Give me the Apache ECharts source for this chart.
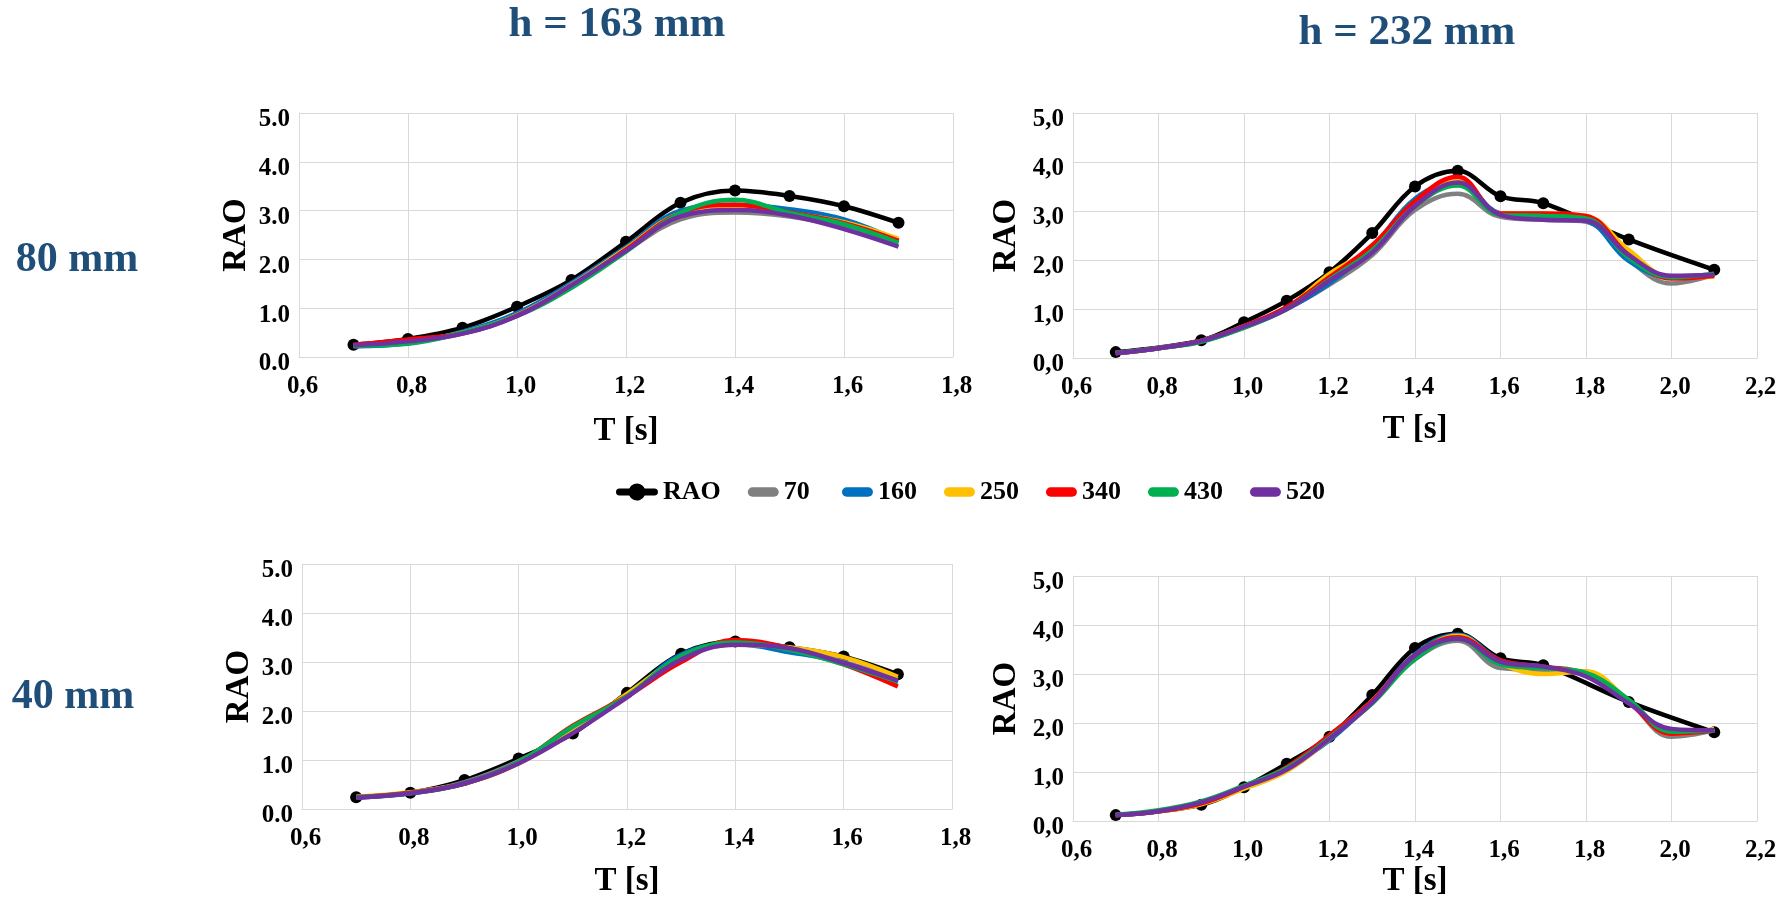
<!DOCTYPE html>
<html>
<head>
<meta charset="utf-8">
<script src="https://cdn.jsdelivr.net/npm/echarts@6/dist/echarts.min.js"></script>
<style>
  html, body { margin: 0; padding: 0; background: #ffffff; }
  #chart { width: 1786px; height: 899px; }
</style>
</head>
<body>
<div id="chart"></div>
<script>
// Wave periods T [s]
const T163 = [0.7, 0.8, 0.9, 1.0, 1.1, 1.2, 1.3, 1.4, 1.5, 1.6, 1.7];
const T232 = [0.7, 0.8, 0.9, 1.0, 1.1, 1.2, 1.3, 1.4, 1.5, 1.6, 1.7, 1.8, 1.9, 2.0, 2.1];
const T232_RAO = [0.7, 0.9, 1.0, 1.1, 1.2, 1.3, 1.4, 1.5, 1.6, 1.7, 1.9, 2.1];

// Series names (legend order) and colours
const seriesNames = ['RAO', '70', '160', '250', '340', '430', '520'];
const seriesColors = ['#000000', '#808080', '#0070c0', '#ffc000', '#ff0000', '#00b050', '#7030a0'];

// Tick labels
const yTicksDot = ['0.0', '1.0', '2.0', '3.0', '4.0', '5.0'];
const yTicksComma = ['0,0', '1,0', '2,0', '3,0', '4,0', '5,0'];
const xTicks163 = ['0,6', '0,8', '1,0', '1,2', '1,4', '1,6', '1,8'];
const xTicks232 = ['0,6', '0,8', '1,0', '1,2', '1,4', '1,6', '1,8', '2,0', '2,2'];

// h = 163 mm, 80 mm
const h163_80_RAO = [0.25, 0.37, 0.60, 1.03, 1.58, 2.36, 3.16, 3.41, 3.30, 3.09, 2.75];
const h163_80_70  = [0.22, 0.30, 0.48, 0.85, 1.48, 2.18, 2.82, 2.96, 2.88, 2.66, 2.34];
const h163_80_160 = [0.22, 0.28, 0.52, 0.90, 1.52, 2.25, 3.00, 3.12, 3.03, 2.82, 2.38];
const h163_80_250 = [0.24, 0.32, 0.50, 0.86, 1.48, 2.22, 2.95, 3.10, 2.95, 2.76, 2.42];
const h163_80_340 = [0.25, 0.36, 0.49, 0.85, 1.45, 2.20, 2.95, 3.12, 2.96, 2.74, 2.38];
const h163_80_430 = [0.23, 0.27, 0.50, 0.84, 1.42, 2.16, 2.95, 3.22, 2.95, 2.72, 2.34];
const h163_80_520 = [0.24, 0.32, 0.48, 0.84, 1.47, 2.18, 2.88, 3.01, 2.90, 2.62, 2.26];

// h = 232 mm, 80 mm
const h232_80_RAO = [0.12, 0.36, 0.73, 1.17, 1.75, 2.55, 3.50, 3.82, 3.30, 3.16, 2.42, 1.80];
const h232_80_70  = [0.10, 0.20, 0.34, 0.62, 1.00, 1.50, 2.10, 3.02, 3.35, 2.88, 2.82, 2.78, 2.00, 1.52, 1.70];
const h232_80_160 = [0.10, 0.20, 0.35, 0.64, 1.00, 1.52, 2.25, 3.25, 3.60, 2.95, 2.88, 2.80, 1.98, 1.65, 1.70];
const h232_80_250 = [0.10, 0.20, 0.35, 0.65, 1.02, 1.72, 2.25, 3.15, 3.65, 2.95, 2.95, 2.90, 2.20, 1.65, 1.66];
const h232_80_340 = [0.10, 0.20, 0.35, 0.65, 1.04, 1.65, 2.30, 3.20, 3.70, 2.95, 2.95, 2.90, 2.10, 1.62, 1.68];
const h232_80_430 = [0.10, 0.20, 0.33, 0.62, 1.00, 1.60, 2.20, 3.10, 3.52, 2.92, 2.90, 2.85, 2.05, 1.65, 1.72];
const h232_80_520 = [0.10, 0.20, 0.35, 0.64, 1.00, 1.58, 2.15, 3.10, 3.58, 2.92, 2.82, 2.80, 2.10, 1.68, 1.70];

// h = 163 mm, 40 mm
const h163_40_RAO = [0.24, 0.33, 0.59, 1.03, 1.54, 2.37, 3.17, 3.42, 3.30, 3.11, 2.75];
const h163_40_70  = [0.24, 0.33, 0.55, 0.98, 1.60, 2.30, 3.10, 3.38, 3.28, 3.00, 2.65];
const h163_40_160 = [0.23, 0.32, 0.53, 0.95, 1.62, 2.30, 3.15, 3.36, 3.20, 2.98, 2.58];
const h163_40_250 = [0.25, 0.34, 0.52, 0.93, 1.58, 2.35, 3.08, 3.35, 3.30, 3.10, 2.70];
const h163_40_340 = [0.24, 0.33, 0.52, 0.95, 1.70, 2.30, 3.00, 3.45, 3.28, 2.95, 2.50];
const h163_40_430 = [0.24, 0.32, 0.52, 0.96, 1.68, 2.30, 3.12, 3.40, 3.25, 2.95, 2.60];
const h163_40_520 = [0.23, 0.32, 0.52, 0.93, 1.55, 2.28, 3.05, 3.35, 3.28, 2.98, 2.62];

// h = 232 mm, 40 mm
const h232_40_RAO = [0.12, 0.33, 0.69, 1.17, 1.72, 2.57, 3.53, 3.82, 3.32, 3.18, 2.43, 1.81];
const h232_40_70  = [0.12, 0.20, 0.38, 0.68, 1.05, 1.75, 2.45, 3.30, 3.68, 3.12, 3.08, 3.05, 2.45, 1.72, 1.85];
const h232_40_160 = [0.12, 0.20, 0.38, 0.70, 1.08, 1.65, 2.45, 3.40, 3.80, 3.28, 3.15, 2.98, 2.42, 1.80, 1.85];
const h232_40_250 = [0.12, 0.20, 0.34, 0.66, 1.02, 1.68, 2.45, 3.35, 3.78, 3.22, 3.00, 3.05, 2.45, 1.78, 1.88];
const h232_40_340 = [0.12, 0.20, 0.36, 0.70, 1.10, 1.75, 2.45, 3.38, 3.75, 3.28, 3.15, 3.00, 2.42, 1.78, 1.85];
const h232_40_430 = [0.13, 0.22, 0.40, 0.72, 1.08, 1.70, 2.40, 3.30, 3.72, 3.20, 3.12, 3.02, 2.48, 1.82, 1.85];
const h232_40_520 = [0.12, 0.20, 0.38, 0.70, 1.05, 1.68, 2.42, 3.38, 3.72, 3.25, 3.15, 2.95, 2.40, 1.88, 1.85];

const FONT = 'Liberation Serif';
const TITLE_COLOR = '#1f4e79';
const GRID_COLOR = '#d9d9d9';

const panels = [
  { raoT: T163, lineT: T163, rao: h163_80_RAO,
    lines: [h163_80_70, h163_80_160, h163_80_250, h163_80_340, h163_80_430, h163_80_520],
    xMax: 1.8, xTicks: xTicks163, yTicks: yTicksDot,
    grid: { left: 299, top: 113, width: 654, height: 244 }, yNameGap: 46, xNameGap: 58 },
  { raoT: T232_RAO, lineT: T232, rao: h232_80_RAO,
    lines: [h232_80_70, h232_80_160, h232_80_250, h232_80_340, h232_80_430, h232_80_520],
    xMax: 2.2, xTicks: xTicks232, yTicks: yTicksComma,
    grid: { left: 1073, top: 113, width: 684, height: 245 }, yNameGap: 50, xNameGap: 55 },
  { raoT: T163, lineT: T163, rao: h163_40_RAO,
    lines: [h163_40_70, h163_40_160, h163_40_250, h163_40_340, h163_40_430, h163_40_520],
    xMax: 1.8, xTicks: xTicks163, yTicks: yTicksDot,
    grid: { left: 302, top: 564, width: 650, height: 245 }, yNameGap: 46, xNameGap: 56 },
  { raoT: T232_RAO, lineT: T232, rao: h232_40_RAO,
    lines: [h232_40_70, h232_40_160, h232_40_250, h232_40_340, h232_40_430, h232_40_520],
    xMax: 2.2, xTicks: xTicks232, yTicks: yTicksComma,
    grid: { left: 1073, top: 576, width: 684, height: 246 }, yNameGap: 50, xNameGap: 44 }
];

const zip = (xs, ys) => xs.map((x, i) => [x, ys[i]]);
const tickText = (labels, min, step) => (v) => labels[Math.round((v - min) / step)] || '';

const axisNameStyle = { fontFamily: FONT, fontWeight: 'bold', fontSize: 33, color: '#000' };
const tickStyle = { fontFamily: FONT, fontWeight: 'bold', fontSize: 25, color: '#000' };

const grids = [], xAxes = [], yAxes = [], series = [];
panels.forEach((p, k) => {
  grids.push(Object.assign({ containLabel: false }, p.grid));
  xAxes.push({
    type: 'value', gridIndex: k, min: 0.6, max: p.xMax, interval: 0.2,
    name: 'T [s]', nameLocation: 'middle', nameGap: p.xNameGap,
    nameTextStyle: axisNameStyle,
    axisLine: { show: true, lineStyle: { color: GRID_COLOR, width: 1 } },
    axisTick: { show: false },
    axisLabel: Object.assign({ margin: 17, padding: [0, 0, 0, 7],
                               formatter: tickText(p.xTicks, 0.6, 0.2) }, tickStyle),
    splitLine: { show: true, lineStyle: { color: GRID_COLOR, width: 1 } }
  });
  const yText = tickText(p.yTicks, 0, 1);
  yAxes.push({
    type: 'value', gridIndex: k, min: 0, max: 5, interval: 1,
    name: 'RAO', nameLocation: 'middle', nameGap: p.yNameGap, nameRotate: 90,
    nameTextStyle: axisNameStyle,
    axisLine: { show: true, lineStyle: { color: GRID_COLOR, width: 1 } },
    axisTick: { show: false },
    axisLabel: Object.assign({ margin: 9,
                               formatter: (v) => '{t|' + yText(v) + '}',
                               // value labels sit slightly below their grid line
                               rich: { t: Object.assign({ padding: [14, 0, 0, 0] }, tickStyle) }
                             }, tickStyle),
    splitLine: { show: true, lineStyle: { color: GRID_COLOR, width: 1 } }
  });
  // Reference RAO curve with markers, drawn beneath the measured curves
  series.push({
    name: seriesNames[0], type: 'line', xAxisIndex: k, yAxisIndex: k,
    data: zip(p.raoT, p.rao), smooth: 0.35, z: 2,
    symbol: 'circle', symbolSize: 12, showSymbol: true,
    lineStyle: { color: seriesColors[0], width: 4.5 },
    itemStyle: { color: seriesColors[0] }
  });
  p.lines.forEach((vals, j) => {
    series.push({
      name: seriesNames[j + 1], type: 'line', xAxisIndex: k, yAxisIndex: k,
      data: zip(p.lineT, vals), smooth: 0.4, z: 3 + j,
      showSymbol: false, symbol: 'none',
      lineStyle: { color: seriesColors[j + 1], width: 4.5 },
      itemStyle: { color: seriesColors[j + 1] }
    });
  });
});

// Legend icons: a pill for the measured curves, a thick line with a dot for RAO.
// The leading moves fix the icon bounding box to 42 x 17.
const pillIcon = 'path://M0,0 M42,17 M15.75,3.75 H37.25 A4.75,4.75 0 0 1 37.25,13.25 H15.75 A4.75,4.75 0 0 1 15.75,3.75 Z';
const raoIcon = 'path://M0,0 M42,17 M3.5,5 H13.25 A8.5,8.5 0 0 1 28.75,5 H38.5 A3.5,3.5 0 0 1 38.5,12 H28.75 A8.5,8.5 0 0 1 13.25,12 H3.5 A3.5,3.5 0 0 1 3.5,5 Z';

const headings = [
  { text: 'h = 163 mm', x: 617, y: 25, size: 43 },
  { text: 'h = 232 mm', x: 1407, y: 33, size: 43 },
  { text: '80 mm', x: 77, y: 260, size: 42 },
  { text: '40 mm', x: 73, y: 697, size: 42 }
];

const chart = echarts.init(document.getElementById('chart'), null, { renderer: 'canvas' });
chart.setOption({
  animation: false,
  backgroundColor: '#ffffff',
  grid: grids,
  xAxis: xAxes,
  yAxis: yAxes,
  legend: {
    left: 611, top: 474, itemGap: 16, itemWidth: 42, itemHeight: 17,
    textStyle: { fontFamily: FONT, fontWeight: 'bold', fontSize: 26, color: '#000' },
    // the two-digit label gets a thin space so the slots line up
    formatter: (name) => name.length < 3 ? name + '\u2009' : name,
    data: seriesNames.map((n, i) => ({ name: n, icon: i === 0 ? raoIcon : pillIcon,
                                       itemStyle: { color: seriesColors[i] } }))
  },
  graphic: headings.map(h => ({
    type: 'text', x: h.x, y: h.y,
    style: { text: h.text, fill: TITLE_COLOR, font: 'bold ' + h.size + 'px "' + FONT + '"',
             textAlign: 'center', textVerticalAlign: 'middle' }
  })),
  series: series
});
</script>
</body>
</html>
